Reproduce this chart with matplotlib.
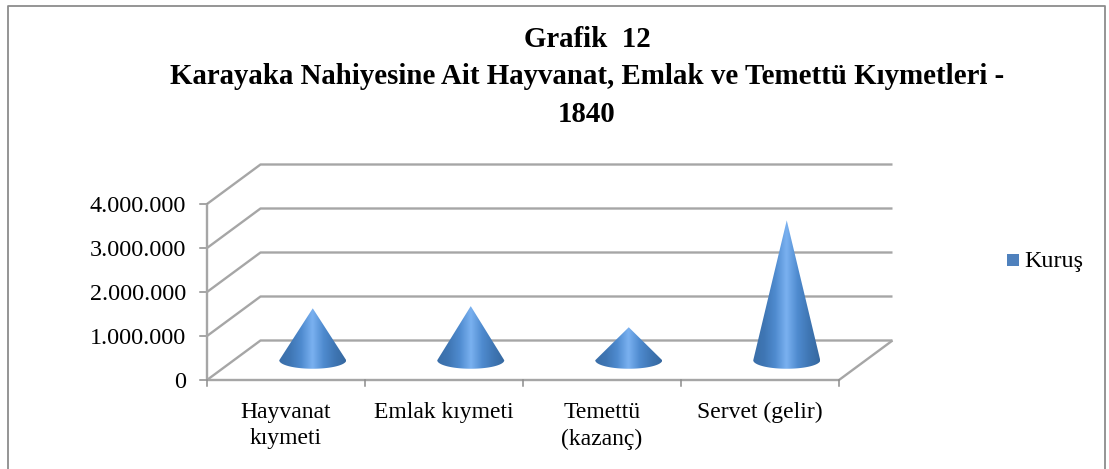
import numpy as np
import matplotlib
matplotlib.use("Agg")
import matplotlib.pyplot as plt
from matplotlib.colors import LinearSegmentedColormap
from matplotlib.patches import PathPatch, Rectangle
from matplotlib.path import Path

categories = ["Hayvanat\nkıymeti", "Emlak kıymeti", "Temettü\n(kazanç)", "Servet (gelir)"]
values = [1180000, 1230000, 750000, 3180000]
y_ticks = [0, 1000000, 2000000, 3000000, 4000000]
y_labels = ["0", "1.000.000", "2.000.000", "3.000.000", "4.000.000"]
title = "Grafik  12\nKarayaka Nahiyesine Ait Hayvanat, Emlak ve Temettü Kıymetleri -\n1840"
legend_label = "Kuruş"

W, H = 1109, 469
plt.rcParams["font.family"] = ["Liberation Serif", "DejaVu Serif"]
fig = plt.figure(figsize=(W / 100, H / 100), dpi=100)
fig.patch.set_facecolor("white")

# plot region: category 0..4 across px 207..839, value 0..4M across px 380..204
L, R, B, T = 207, 839, 380, 204
ax = fig.add_axes([L / W, 1 - B / H, (R - L) / W, (B - T) / H])
ax.set_xlim(0, 4)
ax.set_ylim(0, 4e6)
ax.axis("off")

PX = (R - L) / 4
PY = (B - T) / 4e6
DX = 53.5 / PX      # shift of full depth, category units
DY = 39.5 / PY      # shift of full depth, value units
GRID = "#a6a6a6"
LW = 1.7

kw = dict(color=GRID, lw=LW, clip_on=False, solid_capstyle="butt", zorder=2)
for v in y_ticks:
    ax.plot([0, DX, 4 + DX], [v, v + DY, v + DY], **kw)
    ax.plot([-7 / PX, 0], [v, v], color="#8c8c8c", lw=1.1, clip_on=False, zorder=2)
ax.plot([0, 4, 4 + DX], [0, 0, DY], **kw)
ax.plot([0, 0], [0, 4e6], **kw)
for i in range(5):
    ax.plot([i, i], [0, -6 / PY], color="#8c8c8c", lw=1.1, clip_on=False, zorder=2)

for v, s in zip(y_ticks, y_labels):
    ax.text(-21 / PX, v - 2.5 / PY, s, ha="right", va="center", fontsize=17.4, color="black",
            clip_on=False)
for i, s in enumerate(categories):
    ax.text(i + 0.5, -22 / PY, s, ha="center", va="top", fontsize=17, color="black",
            linespacing=1.34, clip_on=False)

cmap = LinearSegmentedColormap.from_list(
    "cone", ["#3a6ea8", "#3f76b4", "#4f8bcf", "#7ab1f0", "#4f8bcf", "#3f76b4", "#36689f"])
grad = np.linspace(0, 1, 256).reshape(1, -1)
hw = 33.5 / PX
hh = 8.5 / PY
for i, v in enumerate(values):
    cx = i + 0.5 + DX / 2
    cy = DY / 2
    t = np.linspace(0, np.pi, 60)
    ex = cx - hw * np.cos(t)
    ey = cy - hh * np.sin(t)
    verts = [(cx, cy + v)] + list(zip(ex, ey)) + [(cx, cy + v)]
    codes = [Path.MOVETO] + [Path.LINETO] * (len(verts) - 2) + [Path.CLOSEPOLY]
    clip = PathPatch(Path(verts, codes), transform=ax.transData, fc="none", ec="none")
    ax.add_patch(clip)
    im = ax.imshow(grad, cmap=cmap, extent=[cx - hw, cx + hw, cy - hh, cy + v],
                   aspect="auto", zorder=3, interpolation="bilinear")
    im.set_clip_path(clip)
ax.set_xlim(0, 4)
ax.set_ylim(0, 4e6)

fig.text(587 / W, 1 - 77 / H, title, ha="center", va="center", fontsize=20.8, fontweight="bold",
         linespacing=1.5)

fig.add_artist(Rectangle((1007 / W, 1 - 266 / H), 12 / W, 12 / H, transform=fig.transFigure,
                         fc="#4f81bd", ec="none"))
fig.text(1024 / W, 1 - 261 / H, legend_label, ha="left", va="center", fontsize=17.4)

# chart frame
fig.add_artist(plt.Line2D([8 / W, 8 / W, 1105 / W, 1105 / W],
                          [0, 1 - 6 / H, 1 - 6 / H, 0], color="#8c8c8c", lw=1.3,
                          transform=fig.transFigure))
fig.savefig("out.png", dpi=100)
